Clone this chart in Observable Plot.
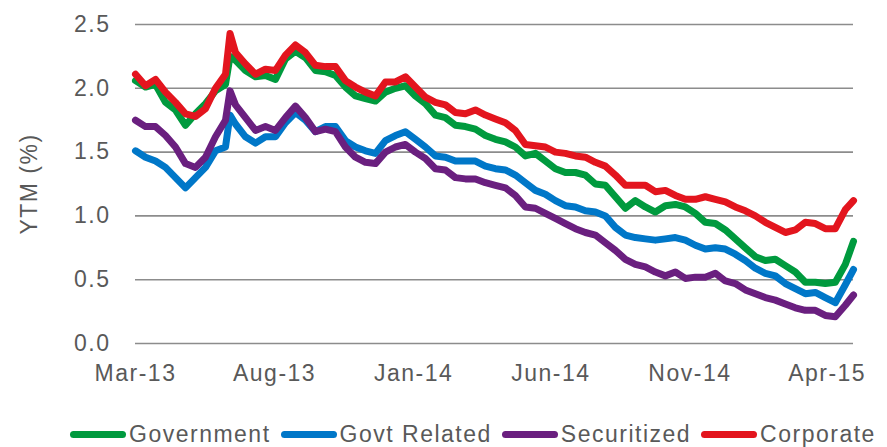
<!DOCTYPE html>
<html><head><meta charset="utf-8">
<script src="https://cdn.jsdelivr.net/npm/d3@7"></script>
<script src="https://cdn.jsdelivr.net/npm/@observablehq/plot@0.6"></script>
<style>
body{margin:0;background:#fff;font-family:"Liberation Sans",Arial,sans-serif;}
#wrap{position:relative;width:887px;height:447px;overflow:hidden;background:#fff;}
#legend{position:absolute;left:70px;top:421px;display:flex;align-items:center;white-space:nowrap;font-size:23px;letter-spacing:1.5px;color:#595959;line-height:26px;}
.item{display:flex;align-items:center;margin-right:10px;}
.sw{width:56px;height:7px;border-radius:4px;margin-right:3px;}
</style></head><body><div id="wrap"><div id="chart"></div><div id="legend"></div></div>
<script>
const names = ["Government", "Govt Related", "Securitized", "Corporate"];
const colors = ["#009a3e", "#0077c8", "#6a1f7f", "#e3151e"];
const yTicks = [0, 0.5, 1, 1.5, 2, 2.5];
const xTickDates = ["2013-03-01", "2013-08-01", "2014-01-01", "2014-06-01", "2014-11-01", "2015-04-01"];
const dates = ["2013-03-01","2013-03-12","2013-03-23","2013-04-03","2013-04-14","2013-04-25","2013-05-06","2013-05-17","2013-05-28","2013-06-08","2013-06-13","2013-06-19","2013-06-30","2013-07-11","2013-07-22","2013-08-02","2013-08-13","2013-08-24","2013-09-04","2013-09-15","2013-09-26","2013-10-07","2013-10-18","2013-10-29","2013-11-09","2013-11-20","2013-12-01","2013-12-12","2013-12-23","2014-01-03","2014-01-14","2014-01-25","2014-02-05","2014-02-16","2014-02-27","2014-03-10","2014-03-21","2014-04-01","2014-04-12","2014-04-23","2014-05-04","2014-05-15","2014-05-26","2014-06-06","2014-06-17","2014-06-28","2014-07-09","2014-07-20","2014-07-31","2014-08-11","2014-08-22","2014-09-02","2014-09-13","2014-09-24","2014-10-05","2014-10-16","2014-10-27","2014-11-07","2014-11-18","2014-11-29","2014-12-10","2014-12-21","2015-01-01","2015-01-12","2015-01-23","2015-02-03","2015-02-14","2015-02-25","2015-03-08","2015-03-19","2015-03-30","2015-04-10","2015-04-21","2015-04-30"];
const government = [2.06,2.01,2.03,1.89,1.83,1.71,1.80,1.88,1.98,2.03,2.25,2.22,2.14,2.09,2.10,2.07,2.23,2.29,2.24,2.14,2.13,2.10,2.01,1.94,1.92,1.90,1.97,2.00,2.02,1.94,1.88,1.79,1.77,1.71,1.70,1.68,1.63,1.60,1.58,1.54,1.47,1.49,1.43,1.37,1.34,1.34,1.32,1.25,1.24,1.15,1.06,1.12,1.07,1.03,1.08,1.09,1.07,1.02,0.95,0.94,0.89,0.82,0.75,0.68,0.65,0.66,0.61,0.56,0.48,0.48,0.47,0.48,0.62,0.80];
const govtRelated = [1.51,1.46,1.43,1.38,1.30,1.22,1.30,1.38,1.51,1.54,1.79,1.72,1.62,1.57,1.62,1.62,1.73,1.81,1.75,1.66,1.70,1.70,1.59,1.54,1.51,1.49,1.59,1.63,1.66,1.60,1.54,1.47,1.46,1.43,1.43,1.43,1.39,1.37,1.36,1.32,1.26,1.20,1.17,1.12,1.08,1.07,1.04,1.03,1.00,0.91,0.85,0.83,0.82,0.81,0.82,0.83,0.81,0.77,0.74,0.75,0.74,0.70,0.65,0.59,0.55,0.53,0.47,0.43,0.39,0.40,0.36,0.32,0.46,0.58];
const securitized = [1.75,1.70,1.70,1.63,1.54,1.41,1.38,1.46,1.62,1.75,1.98,1.87,1.77,1.67,1.70,1.67,1.77,1.86,1.77,1.66,1.68,1.66,1.54,1.46,1.42,1.41,1.50,1.54,1.56,1.50,1.45,1.37,1.36,1.30,1.29,1.29,1.26,1.24,1.22,1.16,1.07,1.06,1.02,0.98,0.94,0.90,0.87,0.85,0.79,0.73,0.66,0.62,0.60,0.56,0.53,0.56,0.51,0.52,0.52,0.55,0.49,0.47,0.42,0.39,0.36,0.34,0.31,0.28,0.26,0.26,0.22,0.21,0.30,0.38];
const corporate = [2.11,2.02,2.07,1.97,1.89,1.80,1.78,1.84,2.00,2.11,2.43,2.28,2.19,2.11,2.15,2.14,2.26,2.34,2.28,2.18,2.17,2.17,2.06,2.01,1.97,1.94,2.05,2.05,2.09,2.01,1.93,1.89,1.87,1.81,1.80,1.83,1.79,1.76,1.73,1.67,1.56,1.55,1.54,1.50,1.49,1.47,1.46,1.42,1.39,1.32,1.24,1.24,1.24,1.19,1.20,1.16,1.13,1.13,1.15,1.13,1.11,1.07,1.04,1.00,0.95,0.91,0.87,0.89,0.95,0.94,0.90,0.90,1.05,1.12];

const seriesValues = [government, govtRelated, securitized, corporate];
const rows = [];
names.forEach((n, si) => dates.forEach((d, i) => rows.push({date: new Date(d), value: seriesValues[si][i], series: n})));

const font = '"Liberation Sans", Arial, sans-serif';
const plot = Plot.plot({
  width: 887, height: 400,
  marginLeft: 135, marginRight: 34, marginTop: 24, marginBottom: 57,
  style: {fontFamily: font, fontSize: "23px", color: "#595959", letterSpacing: "1.5px", background: "#fff"},
  x: {type: "utc", domain: [new Date(dates[0]), new Date(dates[dates.length - 1])], label: null},
  y: {domain: [0, 2.5], label: null},
  color: {domain: names, range: colors},
  marks: [
    Plot.ruleY(yTicks, {stroke: "#8c8c8c", strokeWidth: 1.6}),
    Plot.axisY(yTicks, {tickSize: 0, tickPadding: 25, tickFormat: d => d.toFixed(1), fill: "#595959", label: null}),
    Plot.axisX(xTickDates.map(d => new Date(d)), {tickSize: 0, tickPadding: 21, tickFormat: d3.utcFormat("%b-%y"), fill: "#595959", label: null}),
    Plot.line(rows, {x: "date", y: "value", z: "series", stroke: "series", strokeWidth: 7, strokeLinejoin: "round", strokeLinecap: "round"}),
    Plot.text(["YTM (%)"], {frameAnchor: "left", dx: -106, rotate: -90, fill: "#595959", textAnchor: "middle"})
  ]
});
document.getElementById("chart").appendChild(plot);

const legend = document.getElementById("legend");
names.forEach((n, i) => {
  const it = document.createElement("div");
  it.className = "item";
  const sw = document.createElement("span");
  sw.className = "sw";
  sw.style.background = colors[i];
  const t = document.createElement("span");
  t.textContent = n;
  it.appendChild(sw); it.appendChild(t);
  legend.appendChild(it);
});
</script></body></html>
